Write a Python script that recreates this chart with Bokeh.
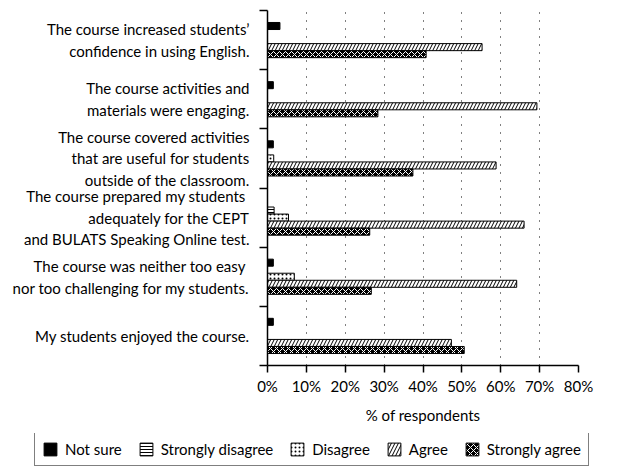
import numpy as np
from bokeh.plotting import figure
from bokeh.models import FixedTicker, Legend, LegendItem, ColumnDataSource
from bokeh.embed import file_html
from bokeh.resources import INLINE

# ---------------- data ----------------
statements = [
    "The course increased students’\nconfidence in using English.",
    "The course activities and\nmaterials were engaging.",
    "The course covered activities\nthat are useful for students\noutside of the classroom.",
    "The course prepared my students\u00a0\nadequately for the CEPT\nand BULATS Speaking Online test.",
    "The course was neither too easy\u00a0\nnor too challenging for my students.",
    "My students enjoyed the course.",
]
series_names = ["Not sure", "Strongly disagree", "Disagree", "Agree", "Strongly agree"]
not_sure          = [3.2, 1.5, 1.5, 0.0, 1.5, 1.5]
strongly_disagree = [0.0, 0.0, 0.0, 1.7, 0.0, 0.0]
disagree          = [0.0, 0.0, 1.6, 5.4, 6.9, 0.0]
agree             = [55.2, 69.3, 58.8, 66.0, 64.1, 47.3]
strongly_agree    = [40.8, 28.4, 37.4, 26.3, 26.7, 50.6]
x_ticks = [0, 10, 20, 30, 40, 50, 60, 70, 80]
x_tick_labels = ["0%", "10%", "20%", "30%", "40%", "50%", "60%", "70%", "80%"]
x_axis_title = "% of respondents"

FONT = "Lato"
n = len(statements)
centers = np.arange(n)[::-1] + 0.5          # first statement on top
bar_h = 0.119
offsets = [2 * bar_h, bar_h, 0.0, -bar_h, -2 * bar_h]

p = figure(width=612, height=433, output_backend="svg", toolbar_location=None,
           x_range=(0, 80), y_range=(0, n),
           min_border_left=267, min_border_right=34, min_border_top=10, min_border_bottom=68)
p.outline_line_color = None
p.background_fill_color = "white"

styles = [
    dict(fill_color="black", line_color="black"),
    dict(fill_color="white", line_color="black", hatch_pattern="-", hatch_color="black", hatch_scale=3, hatch_weight=1),
    dict(fill_color="white", line_color="black", hatch_pattern=".", hatch_color="black", hatch_scale=4, hatch_weight=1),
    dict(fill_color="white", line_color="black", hatch_pattern="/", hatch_color="black", hatch_scale=7, hatch_weight=1),
    dict(fill_color="black", line_color="black", hatch_pattern="x", hatch_color="white", hatch_scale=6, hatch_weight=1),
]
all_values = [not_sure, strongly_disagree, disagree, agree, strongly_agree]

# legend strip: a separate root figure whose frame spans its whole width;
# its swatch renderers share the data, but its x range keeps them out of view.
lf = figure(width=612, height=33, output_backend="svg", toolbar_location=None,
            x_range=(-2, -1), y_range=(0, 1), x_axis_type=None, y_axis_type=None,
            min_border_left=0, min_border_right=0, min_border_top=0, min_border_bottom=0)
lf.outline_line_color = None
lf.grid.visible = False

items = []
for name, vals, off, st in zip(series_names, all_values, offsets, styles):
    vals = np.array(vals)
    mask = vals > 0
    src = ColumnDataSource(dict(y=(centers + off)[mask], right=vals[mask]))
    p.hbar(y="y", left=0, right="right", height=bar_h, source=src, line_width=1, **st)
    sw = lf.hbar(y="y", left=0, right="right", height=bar_h, source=src, line_width=1, **st)
    items.append(LegendItem(label=name, renderers=[sw]))

# x axis
p.xaxis.ticker = FixedTicker(ticks=x_ticks)
p.xaxis.major_label_overrides = {t: l for t, l in zip(x_ticks, x_tick_labels)}
p.xaxis.axis_label = x_axis_title
p.xaxis.axis_label_text_font = FONT
p.xaxis.axis_label_text_font_size = "15px"
p.xaxis.axis_label_text_font_style = "normal"
p.xaxis.axis_label_text_color = "black"
p.xaxis.axis_label_standoff = 8
p.xaxis.major_label_text_font = FONT
p.xaxis.major_label_text_font_size = "15px"
p.xaxis.major_label_text_color = "black"
p.xaxis.major_tick_out = 7
p.xaxis.major_tick_in = 0
p.xaxis.minor_tick_out = 0
p.xaxis.minor_tick_in = 0
p.xaxis.axis_line_color = "black"
p.xaxis.axis_line_width = 1.5
p.xaxis.major_tick_line_color = "black"
p.xaxis.major_tick_line_width = 1.5
p.xaxis.major_label_standoff = 4

# y axis
p.yaxis.ticker = FixedTicker(ticks=list(centers), minor_ticks=list(range(n + 1)))
p.yaxis.major_label_overrides = {float(c): s for c, s in zip(centers, statements)}
p.yaxis.major_label_text_font = FONT
p.yaxis.major_label_text_font_size = "15px"
p.yaxis.major_label_text_color = "black"
p.yaxis.major_tick_out = 0
p.yaxis.major_tick_in = 0
p.yaxis.minor_tick_out = 8
p.yaxis.minor_tick_in = 0
p.yaxis.minor_tick_line_color = "black"
p.yaxis.minor_tick_line_width = 1.5
p.yaxis.axis_line_color = "black"
p.yaxis.axis_line_width = 1.5
p.yaxis.major_label_standoff = 10

# grid
p.ygrid.grid_line_color = None
p.xgrid.ticker = FixedTicker(ticks=x_ticks[1:])
p.xgrid.grid_line_color = "black"
p.xgrid.grid_line_dash = "1 7"
p.xgrid.grid_line_width = 1

legend = Legend(items=items, orientation="horizontal", location=(34, 0),
                label_text_font=FONT, label_text_font_size="15px", label_text_color="black",
                glyph_width=16, glyph_height=16, label_standoff=7, spacing=16,
                padding=7, margin=0, border_line_color="black", border_line_width=1.2,
                background_fill_alpha=1, label_height=15)
lf.add_layout(legend, "center")

open("out.html", "w").write(file_html([p, lf], INLINE))
